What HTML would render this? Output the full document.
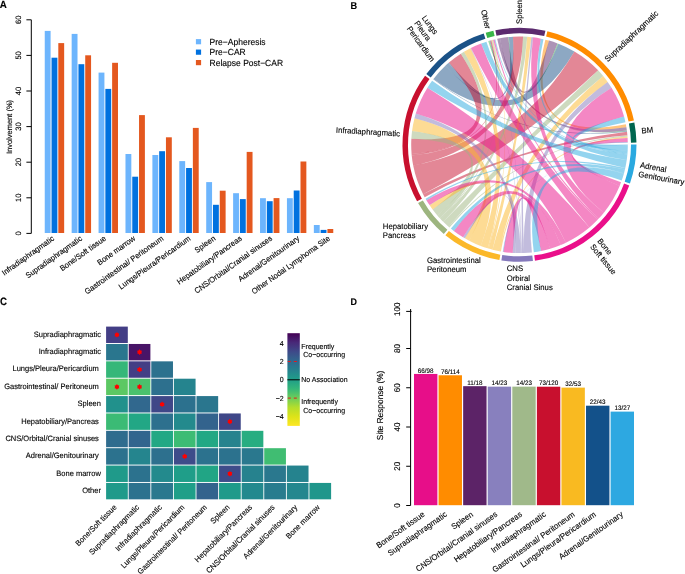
<!DOCTYPE html>
<html><head><meta charset="utf-8"><style>
html,body{margin:0;padding:0;background:#fff;}
svg{display:block;font-family:"Liberation Sans", sans-serif;will-change:transform;}
text{stroke:#000;stroke-width:0.12px;text-rendering:geometricPrecision;}
</style></head><body>
<svg width="685" height="574" viewBox="0 0 685 574">
<rect width="685" height="574" fill="#fff"/>
<text transform="translate(-0.3,7.5) scale(0.92,1)" font-size="10.6" font-weight="bold">A</text>
<line x1="31.3" y1="19.80" x2="31.3" y2="233.40" stroke="#000" stroke-width="1"/>
<line x1="26.4" y1="233.40" x2="31.3" y2="233.40" stroke="#000" stroke-width="1"/>
<text transform="translate(21.40,233.40) rotate(-90) scale(1,1.04)" font-size="7.5" text-anchor="middle" fill="#000">0</text>
<line x1="26.4" y1="197.80" x2="31.3" y2="197.80" stroke="#000" stroke-width="1"/>
<text transform="translate(21.40,197.80) rotate(-90) scale(1,1.04)" font-size="7.5" text-anchor="middle" fill="#000">10</text>
<line x1="26.4" y1="162.20" x2="31.3" y2="162.20" stroke="#000" stroke-width="1"/>
<text transform="translate(21.40,162.20) rotate(-90) scale(1,1.04)" font-size="7.5" text-anchor="middle" fill="#000">20</text>
<line x1="26.4" y1="126.60" x2="31.3" y2="126.60" stroke="#000" stroke-width="1"/>
<text transform="translate(21.40,126.60) rotate(-90) scale(1,1.04)" font-size="7.5" text-anchor="middle" fill="#000">30</text>
<line x1="26.4" y1="91.00" x2="31.3" y2="91.00" stroke="#000" stroke-width="1"/>
<text transform="translate(21.40,91.00) rotate(-90) scale(1,1.04)" font-size="7.5" text-anchor="middle" fill="#000">40</text>
<line x1="26.4" y1="55.40" x2="31.3" y2="55.40" stroke="#000" stroke-width="1"/>
<text transform="translate(21.40,55.40) rotate(-90) scale(1,1.04)" font-size="7.5" text-anchor="middle" fill="#000">50</text>
<line x1="26.4" y1="19.80" x2="31.3" y2="19.80" stroke="#000" stroke-width="1"/>
<text transform="translate(21.40,19.80) rotate(-90) scale(1,1.04)" font-size="7.5" text-anchor="middle" fill="#000">60</text>
<text transform="translate(11.70,127.00) rotate(-90) scale(1,1.04)" font-size="7.5" text-anchor="middle" fill="#000">Involvement (%)</text>
<rect x="44.75" y="30.90" width="5.85" height="202.10" fill="#6DB5FD"/>
<rect x="51.53" y="57.70" width="5.85" height="175.30" fill="#0071DF"/>
<rect x="58.31" y="43.10" width="5.85" height="189.90" fill="#E4581F"/>
<rect x="71.66" y="33.90" width="5.85" height="199.10" fill="#6DB5FD"/>
<rect x="78.44" y="64.20" width="5.85" height="168.80" fill="#0071DF"/>
<rect x="85.22" y="55.30" width="5.85" height="177.70" fill="#E4581F"/>
<rect x="98.57" y="72.60" width="5.85" height="160.40" fill="#6DB5FD"/>
<rect x="105.35" y="88.90" width="5.85" height="144.10" fill="#0071DF"/>
<rect x="112.13" y="62.80" width="5.85" height="170.20" fill="#E4581F"/>
<rect x="125.48" y="154.00" width="5.85" height="79.00" fill="#6DB5FD"/>
<rect x="132.26" y="176.70" width="5.85" height="56.30" fill="#0071DF"/>
<rect x="139.04" y="115.10" width="5.85" height="117.90" fill="#E4581F"/>
<rect x="152.39" y="155.00" width="5.85" height="78.00" fill="#6DB5FD"/>
<rect x="159.17" y="151.20" width="5.85" height="81.80" fill="#0071DF"/>
<rect x="165.95" y="137.30" width="5.85" height="95.70" fill="#E4581F"/>
<rect x="179.30" y="161.10" width="5.85" height="71.90" fill="#6DB5FD"/>
<rect x="186.08" y="168.00" width="5.85" height="65.00" fill="#0071DF"/>
<rect x="192.86" y="127.90" width="5.85" height="105.10" fill="#E4581F"/>
<rect x="206.21" y="182.10" width="5.85" height="50.90" fill="#6DB5FD"/>
<rect x="212.99" y="204.80" width="5.85" height="28.20" fill="#0071DF"/>
<rect x="219.77" y="190.70" width="5.85" height="42.30" fill="#E4581F"/>
<rect x="233.12" y="193.20" width="5.85" height="39.80" fill="#6DB5FD"/>
<rect x="239.90" y="199.10" width="5.85" height="33.90" fill="#0071DF"/>
<rect x="246.68" y="151.90" width="5.85" height="81.10" fill="#E4581F"/>
<rect x="260.03" y="198.20" width="5.85" height="34.80" fill="#6DB5FD"/>
<rect x="266.81" y="201.20" width="5.85" height="31.80" fill="#0071DF"/>
<rect x="273.59" y="198.10" width="5.85" height="34.90" fill="#E4581F"/>
<rect x="286.94" y="198.20" width="5.85" height="34.80" fill="#6DB5FD"/>
<rect x="293.72" y="190.50" width="5.85" height="42.50" fill="#0071DF"/>
<rect x="300.50" y="161.50" width="5.85" height="71.50" fill="#E4581F"/>
<rect x="313.85" y="225.00" width="5.85" height="8.00" fill="#6DB5FD"/>
<rect x="320.63" y="229.90" width="5.85" height="3.10" fill="#0071DF"/>
<rect x="327.41" y="229.00" width="5.85" height="4.00" fill="#E4581F"/>
<text transform="translate(54.80,239.60) rotate(-35.5) scale(1,1.04)" font-size="7.5" text-anchor="end" fill="#000">Infradiaphragmatic</text>
<text transform="translate(82.71,239.60) rotate(-35.5) scale(1,1.04)" font-size="7.5" text-anchor="end" fill="#000">Supradiaphragmatic</text>
<text transform="translate(106.72,239.60) rotate(-35.5) scale(1,1.04)" font-size="7.5" text-anchor="end" fill="#000">Bone/Soft tissue</text>
<text transform="translate(135.93,239.60) rotate(-35.5) scale(1,1.04)" font-size="7.5" text-anchor="end" fill="#000">Bone marrow</text>
<text transform="translate(164.04,239.60) rotate(-35.5) scale(1,1.04)" font-size="7.5" text-anchor="end" fill="#000">Gastrointestinal/ Peritoneum</text>
<text transform="translate(191.15,239.60) rotate(-35.5) scale(1,1.04)" font-size="7.5" text-anchor="end" fill="#000">Lungs/Pleura/Pericardium</text>
<text transform="translate(216.06,239.60) rotate(-35.5) scale(1,1.04)" font-size="7.5" text-anchor="end" fill="#000">Spleen</text>
<text transform="translate(242.47,239.60) rotate(-35.5) scale(1,1.04)" font-size="7.5" text-anchor="end" fill="#000">Hepatobiliary/Pancreas</text>
<text transform="translate(272.78,239.60) rotate(-35.5) scale(1,1.04)" font-size="7.5" text-anchor="end" fill="#000">CNS/Orbital/Cranial sinuses</text>
<text transform="translate(299.99,239.60) rotate(-35.5) scale(1,1.04)" font-size="7.5" text-anchor="end" fill="#000">Adrenal/Genitourinary</text>
<text transform="translate(330.70,239.60) rotate(-35.5) scale(1,1.04)" font-size="7.5" text-anchor="end" fill="#000">Other Nodal Lymphoma Site</text>
<rect x="195.9" y="39.10" width="5.2" height="5.2" fill="#6DB5FD"/>
<text transform="translate(209.60,44.90) rotate(0) scale(1,1.04)" font-size="8.5" fill="#000">Pre−Apheresis</text>
<rect x="195.9" y="49.55" width="5.2" height="5.2" fill="#0071DF"/>
<text transform="translate(209.60,55.30) rotate(0) scale(1,1.04)" font-size="8.5" fill="#000">Pre−CAR</text>
<rect x="195.9" y="60.00" width="5.2" height="5.2" fill="#E4581F"/>
<text transform="translate(209.60,65.70) rotate(0) scale(1,1.04)" font-size="8.5" fill="#000">Relapse Post−CAR</text>
<path d="M428.50,75.72 A114.25,114.25 0 0 1 484.57,36.02" fill="none" stroke="#1B5287" stroke-width="5.50"/>
<path d="M486.48,35.43 A114.25,114.25 0 0 1 493.99,33.43" fill="none" stroke="#3AB54A" stroke-width="5.50"/>
<path d="M495.94,33.01 A114.25,114.25 0 0 1 544.81,33.39" fill="none" stroke="#5B2A6E" stroke-width="5.50"/>
<path d="M546.75,33.85 A114.25,114.25 0 0 1 631.25,121.05" fill="none" stroke="#FF8C00" stroke-width="5.50"/>
<path d="M631.65,123.00 A114.25,114.25 0 0 1 633.73,142.61" fill="none" stroke="#00664F" stroke-width="5.50"/>
<path d="M633.75,144.60 A114.25,114.25 0 0 1 627.33,182.56" fill="none" stroke="#2AA9E0" stroke-width="5.50"/>
<path d="M626.65,184.44 A114.25,114.25 0 0 1 534.61,258.05" fill="none" stroke="#EA0F8A" stroke-width="5.50"/>
<path d="M532.63,258.29 A114.25,114.25 0 0 1 501.82,257.67" fill="none" stroke="#8579BC" stroke-width="5.50"/>
<path d="M499.86,257.35 A114.25,114.25 0 0 1 447.14,233.21" fill="none" stroke="#FBB829" stroke-width="5.50"/>
<path d="M445.60,231.93 A114.25,114.25 0 0 1 420.46,201.75" fill="none" stroke="#9DB57F" stroke-width="5.50"/>
<path d="M419.48,200.02 A114.25,114.25 0 0 1 427.30,77.32" fill="none" stroke="#C8102E" stroke-width="5.50"/>
<path d="M545.33,39.63 A108.3,108.3 0 0 1 549.08,40.62 Q519.5,144.8 625.81,124.14 A108.3,108.3 0 0 1 626.39,127.36 Q519.5,144.8 545.33,39.63Z" fill="#FF8C00" fill-opacity="0.5"/>
<path d="M499.93,38.28 A108.3,108.3 0 0 1 508.28,37.08 Q519.5,144.8 549.08,40.62 A108.3,108.3 0 0 1 557.53,43.40 Q519.5,144.8 499.93,38.28Z" fill="#5B2A6E" fill-opacity="0.5"/>
<path d="M497.17,38.83 A108.3,108.3 0 0 1 499.93,38.28 Q519.5,144.8 626.39,127.36 A108.3,108.3 0 0 1 626.84,130.42 Q519.5,144.8 497.17,38.83Z" fill="#5B2A6E" fill-opacity="0.5"/>
<path d="M489.21,40.82 A108.3,108.3 0 0 1 489.64,40.70 Q519.5,144.8 508.28,37.08 A108.3,108.3 0 0 1 508.84,37.03 Q519.5,144.8 489.21,40.82Z" fill="#3AB54A" fill-opacity="0.5"/>
<path d="M488.49,41.04 A108.3,108.3 0 0 1 489.21,40.82 Q519.5,144.8 557.53,43.40 A108.3,108.3 0 0 1 558.41,43.73 Q519.5,144.8 488.49,41.04Z" fill="#3AB54A" fill-opacity="0.5"/>
<path d="M488.20,41.12 A108.3,108.3 0 0 1 488.49,41.04 Q519.5,144.8 626.84,130.42 A108.3,108.3 0 0 1 626.92,130.99 Q519.5,144.8 488.20,41.12Z" fill="#3AB54A" fill-opacity="0.5"/>
<path d="M448.40,63.11 A108.3,108.3 0 0 1 448.96,62.62 Q519.5,144.8 489.64,40.70 A108.3,108.3 0 0 1 490.22,40.53 Q519.5,144.8 448.40,63.11Z" fill="#1B5287" fill-opacity="0.5"/>
<path d="M445.37,65.84 A108.3,108.3 0 0 1 448.40,63.11 Q519.5,144.8 508.84,37.03 A108.3,108.3 0 0 1 512.95,36.70 Q519.5,144.8 445.37,65.84Z" fill="#1B5287" fill-opacity="0.5"/>
<path d="M433.69,78.73 A108.3,108.3 0 0 1 445.37,65.84 Q519.5,144.8 558.41,43.73 A108.3,108.3 0 0 1 574.41,51.45 Q519.5,144.8 433.69,78.73Z" fill="#1B5287" fill-opacity="0.5"/>
<path d="M433.24,79.32 A108.3,108.3 0 0 1 433.69,78.73 Q519.5,144.8 626.92,130.99 A108.3,108.3 0 0 1 627.01,131.76 Q519.5,144.8 433.24,79.32Z" fill="#1B5287" fill-opacity="0.5"/>
<path d="M448.96,62.62 A108.3,108.3 0 0 1 460.83,53.77 Q519.5,144.8 411.59,153.93 A108.3,108.3 0 0 1 411.36,138.85 Q519.5,144.8 448.96,62.62Z" fill="#C8102E" fill-opacity="0.5"/>
<path d="M490.22,40.53 A108.3,108.3 0 0 1 491.38,40.21 Q519.5,144.8 411.72,155.44 A108.3,108.3 0 0 1 411.59,153.93 Q519.5,144.8 490.22,40.53Z" fill="#C8102E" fill-opacity="0.5"/>
<path d="M512.95,36.70 A108.3,108.3 0 0 1 523.07,36.56 Q519.5,144.8 413.20,165.52 A108.3,108.3 0 0 1 411.72,155.44 Q519.5,144.8 512.95,36.70Z" fill="#C8102E" fill-opacity="0.5"/>
<path d="M574.41,51.45 A108.3,108.3 0 0 1 598.16,70.35 Q519.5,144.8 423.09,194.14 A108.3,108.3 0 0 1 413.20,165.52 Q519.5,144.8 574.41,51.45Z" fill="#C8102E" fill-opacity="0.5"/>
<path d="M627.01,131.76 A108.3,108.3 0 0 1 627.37,135.21 Q519.5,144.8 424.69,197.14 A108.3,108.3 0 0 1 423.09,194.14 Q519.5,144.8 627.01,131.76Z" fill="#C8102E" fill-opacity="0.5"/>
<path d="M460.83,53.77 A108.3,108.3 0 0 1 463.98,51.81 Q519.5,144.8 439.85,218.18 A108.3,108.3 0 0 1 437.37,215.40 Q519.5,144.8 460.83,53.77Z" fill="#9DB57F" fill-opacity="0.5"/>
<path d="M491.38,40.21 A108.3,108.3 0 0 1 492.11,40.02 Q519.5,144.8 440.51,218.89 A108.3,108.3 0 0 1 439.85,218.18 Q519.5,144.8 491.38,40.21Z" fill="#9DB57F" fill-opacity="0.5"/>
<path d="M523.07,36.56 A108.3,108.3 0 0 1 527.19,36.77 Q519.5,144.8 443.25,221.70 A108.3,108.3 0 0 1 440.51,218.89 Q519.5,144.8 523.07,36.56Z" fill="#9DB57F" fill-opacity="0.5"/>
<path d="M598.16,70.35 A108.3,108.3 0 0 1 603.16,76.03 Q519.5,144.8 448.56,226.63 A108.3,108.3 0 0 1 443.25,221.70 Q519.5,144.8 598.16,70.35Z" fill="#9DB57F" fill-opacity="0.5"/>
<path d="M627.37,135.21 A108.3,108.3 0 0 1 627.49,136.56 Q519.5,144.8 449.45,227.40 A108.3,108.3 0 0 1 448.56,226.63 Q519.5,144.8 627.37,135.21Z" fill="#9DB57F" fill-opacity="0.5"/>
<path d="M437.37,215.40 A108.3,108.3 0 0 1 432.60,209.43 Q519.5,144.8 411.36,138.85 A108.3,108.3 0 0 1 412.09,130.96 Q519.5,144.8 437.37,215.40Z" fill="#9DB57F" fill-opacity="0.5"/>
<path d="M463.98,51.81 A108.3,108.3 0 0 1 470.47,48.23 Q519.5,144.8 487.70,248.32 A108.3,108.3 0 0 1 480.67,245.90 Q519.5,144.8 463.98,51.81Z" fill="#FBB829" fill-opacity="0.5"/>
<path d="M492.11,40.02 A108.3,108.3 0 0 1 492.84,39.83 Q519.5,144.8 488.58,248.59 A108.3,108.3 0 0 1 487.70,248.32 Q519.5,144.8 492.11,40.02Z" fill="#FBB829" fill-opacity="0.5"/>
<path d="M527.19,36.77 A108.3,108.3 0 0 1 531.30,37.14 Q519.5,144.8 492.52,249.69 A108.3,108.3 0 0 1 488.58,248.59 Q519.5,144.8 527.19,36.77Z" fill="#FBB829" fill-opacity="0.5"/>
<path d="M603.16,76.03 A108.3,108.3 0 0 1 607.65,81.88 Q519.5,144.8 499.60,251.26 A108.3,108.3 0 0 1 492.52,249.69 Q519.5,144.8 603.16,76.03Z" fill="#FBB829" fill-opacity="0.5"/>
<path d="M627.49,136.56 A108.3,108.3 0 0 1 627.58,137.90 Q519.5,144.8 500.88,251.49 A108.3,108.3 0 0 1 499.60,251.26 Q519.5,144.8 627.49,136.56Z" fill="#FBB829" fill-opacity="0.5"/>
<path d="M469.16,240.69 A108.3,108.3 0 0 1 464.93,238.35 Q519.5,144.8 432.60,209.43 A108.3,108.3 0 0 1 429.65,205.27 Q519.5,144.8 469.16,240.69Z" fill="#FBB829" fill-opacity="0.5"/>
<path d="M480.67,245.90 A108.3,108.3 0 0 1 469.16,240.69 Q519.5,144.8 412.09,130.96 A108.3,108.3 0 0 1 414.48,118.35 Q519.5,144.8 480.67,245.90Z" fill="#FBB829" fill-opacity="0.5"/>
<path d="M470.47,48.23 A108.3,108.3 0 0 1 470.97,47.98 Q519.5,144.8 521.29,253.09 A108.3,108.3 0 0 1 520.55,253.09 Q519.5,144.8 470.47,48.23Z" fill="#8579BC" fill-opacity="0.5"/>
<path d="M492.84,39.83 A108.3,108.3 0 0 1 493.27,39.72 Q519.5,144.8 521.84,253.07 A108.3,108.3 0 0 1 521.29,253.09 Q519.5,144.8 492.84,39.83Z" fill="#8579BC" fill-opacity="0.5"/>
<path d="M531.30,37.14 A108.3,108.3 0 0 1 533.16,37.36 Q519.5,144.8 524.05,253.00 A108.3,108.3 0 0 1 521.84,253.07 Q519.5,144.8 531.30,37.14Z" fill="#8579BC" fill-opacity="0.5"/>
<path d="M607.65,81.88 A108.3,108.3 0 0 1 611.53,87.71 Q519.5,144.8 531.76,252.40 A108.3,108.3 0 0 1 524.05,253.00 Q519.5,144.8 607.65,81.88Z" fill="#8579BC" fill-opacity="0.5"/>
<path d="M627.58,137.90 A108.3,108.3 0 0 1 627.59,138.10 Q519.5,144.8 531.95,252.38 A108.3,108.3 0 0 1 531.76,252.40 Q519.5,144.8 627.58,137.90Z" fill="#8579BC" fill-opacity="0.5"/>
<path d="M515.21,253.01 A108.3,108.3 0 0 1 512.63,252.88 Q519.5,144.8 464.93,238.35 A108.3,108.3 0 0 1 463.02,237.21 Q519.5,144.8 515.21,253.01Z" fill="#8579BC" fill-opacity="0.5"/>
<path d="M515.39,253.02 A108.3,108.3 0 0 1 515.21,253.01 Q519.5,144.8 429.65,205.27 A108.3,108.3 0 0 1 429.55,205.11 Q519.5,144.8 515.39,253.02Z" fill="#8579BC" fill-opacity="0.5"/>
<path d="M520.55,253.09 A108.3,108.3 0 0 1 515.39,253.02 Q519.5,144.8 414.48,118.35 A108.3,108.3 0 0 1 415.78,113.62 Q519.5,144.8 520.55,253.09Z" fill="#8579BC" fill-opacity="0.5"/>
<path d="M470.97,47.98 A108.3,108.3 0 0 1 481.15,43.52 Q519.5,144.8 597.59,219.84 A108.3,108.3 0 0 1 589.44,227.49 Q519.5,144.8 470.97,47.98Z" fill="#EA0F8A" fill-opacity="0.5"/>
<path d="M493.27,39.72 A108.3,108.3 0 0 1 494.59,39.40 Q519.5,144.8 598.74,218.62 A108.3,108.3 0 0 1 597.59,219.84 Q519.5,144.8 493.27,39.72Z" fill="#EA0F8A" fill-opacity="0.5"/>
<path d="M533.16,37.36 A108.3,108.3 0 0 1 540.93,38.64 Q519.5,144.8 603.87,212.71 A108.3,108.3 0 0 1 598.74,218.62 Q519.5,144.8 533.16,37.36Z" fill="#EA0F8A" fill-opacity="0.5"/>
<path d="M611.53,87.71 A108.3,108.3 0 0 1 624.06,116.58 Q519.5,144.8 619.65,186.02 A108.3,108.3 0 0 1 603.87,212.71 Q519.5,144.8 611.53,87.71Z" fill="#EA0F8A" fill-opacity="0.5"/>
<path d="M627.59,138.10 A108.3,108.3 0 0 1 627.77,142.14 Q519.5,144.8 621.07,182.37 A108.3,108.3 0 0 1 619.65,186.02 Q519.5,144.8 627.59,138.10Z" fill="#EA0F8A" fill-opacity="0.5"/>
<path d="M550.21,248.66 A108.3,108.3 0 0 1 540.99,250.95 Q519.5,144.8 512.63,252.88 A108.3,108.3 0 0 1 503.29,251.88 Q519.5,144.8 550.21,248.66Z" fill="#EA0F8A" fill-opacity="0.5"/>
<path d="M560.74,244.94 A108.3,108.3 0 0 1 550.21,248.66 Q519.5,144.8 463.02,237.21 A108.3,108.3 0 0 1 453.82,230.91 Q519.5,144.8 560.74,244.94Z" fill="#EA0F8A" fill-opacity="0.5"/>
<path d="M565.86,242.68 A108.3,108.3 0 0 1 560.74,244.94 Q519.5,144.8 429.55,205.11 A108.3,108.3 0 0 1 426.41,200.14 Q519.5,144.8 565.86,242.68Z" fill="#EA0F8A" fill-opacity="0.5"/>
<path d="M589.44,227.49 A108.3,108.3 0 0 1 565.86,242.68 Q519.5,144.8 415.78,113.62 A108.3,108.3 0 0 1 427.46,87.72 Q519.5,144.8 589.44,227.49Z" fill="#EA0F8A" fill-opacity="0.5"/>
<path d="M481.15,43.52 A108.3,108.3 0 0 1 486.39,41.68 Q519.5,144.8 627.37,154.46 A108.3,108.3 0 0 1 626.73,160.01 Q519.5,144.8 481.15,43.52Z" fill="#2AA9E0" fill-opacity="0.5"/>
<path d="M494.59,39.40 A108.3,108.3 0 0 1 495.32,39.23 Q519.5,144.8 627.45,153.54 A108.3,108.3 0 0 1 627.37,154.46 Q519.5,144.8 494.59,39.40Z" fill="#2AA9E0" fill-opacity="0.5"/>
<path d="M540.93,38.64 A108.3,108.3 0 0 1 543.49,39.19 Q519.5,144.8 627.63,150.94 A108.3,108.3 0 0 1 627.45,153.54 Q519.5,144.8 540.93,38.64Z" fill="#2AA9E0" fill-opacity="0.5"/>
<path d="M624.06,116.58 A108.3,108.3 0 0 1 625.43,122.28 Q519.5,144.8 627.80,145.17 A108.3,108.3 0 0 1 627.63,150.94 Q519.5,144.8 624.06,116.58Z" fill="#2AA9E0" fill-opacity="0.5"/>
<path d="M627.77,142.14 A108.3,108.3 0 0 1 627.78,142.72 Q519.5,144.8 627.80,144.61 A108.3,108.3 0 0 1 627.80,145.17 Q519.5,144.8 627.77,142.14Z" fill="#2AA9E0" fill-opacity="0.5"/>
<path d="M623.88,173.67 A108.3,108.3 0 0 1 621.71,180.59 Q519.5,144.8 540.99,250.95 A108.3,108.3 0 0 1 533.82,252.15 Q519.5,144.8 623.88,173.67Z" fill="#2AA9E0" fill-opacity="0.5"/>
<path d="M624.03,173.13 A108.3,108.3 0 0 1 623.88,173.67 Q519.5,144.8 503.29,251.88 A108.3,108.3 0 0 1 502.74,251.80 Q519.5,144.8 624.03,173.13Z" fill="#2AA9E0" fill-opacity="0.5"/>
<path d="M624.94,169.52 A108.3,108.3 0 0 1 624.03,173.13 Q519.5,144.8 453.82,230.91 A108.3,108.3 0 0 1 450.90,228.61 Q519.5,144.8 624.94,169.52Z" fill="#2AA9E0" fill-opacity="0.5"/>
<path d="M625.27,168.07 A108.3,108.3 0 0 1 624.94,169.52 Q519.5,144.8 426.41,200.14 A108.3,108.3 0 0 1 425.62,198.79 Q519.5,144.8 625.27,168.07Z" fill="#2AA9E0" fill-opacity="0.5"/>
<path d="M626.73,160.01 A108.3,108.3 0 0 1 625.27,168.07 Q519.5,144.8 427.46,87.72 A108.3,108.3 0 0 1 432.11,80.84 Q519.5,144.8 626.73,160.01Z" fill="#2AA9E0" fill-opacity="0.5"/>
<text transform="translate(350.4,8.9) scale(0.93,1)" font-size="9.9" font-weight="bold">B</text>
<text transform="translate(421.50,17.90) rotate(54) scale(1,1.04)" font-size="7.75" fill="#000">Lungs</text>
<text transform="translate(413.98,23.37) rotate(54) scale(1,1.04)" font-size="7.75" fill="#000">Pleura</text>
<text transform="translate(406.45,28.83) rotate(54) scale(1,1.04)" font-size="7.75" fill="#000">Pericardium</text>
<text transform="translate(481.00,10.50) rotate(77) scale(1,1.04)" font-size="7.75" fill="#000">Other</text>
<text transform="translate(521.70,24.00) rotate(-90) scale(1,1.04)" font-size="7.75" fill="#000">Spleen</text>
<text transform="translate(607.80,62.30) rotate(-43.3) scale(1,1.04)" font-size="7.85" fill="#000">Supradiaphragmatic</text>
<text transform="translate(641.80,133.50) rotate(-6) scale(1,1.04)" font-size="7.75" fill="#000">BM</text>
<text transform="translate(639.70,167.60) rotate(10) scale(1,1.04)" font-size="7.75" fill="#000">Adrenal</text>
<text transform="translate(638.09,176.76) rotate(10) scale(1,1.04)" font-size="7.75" fill="#000">Genitourinary</text>
<text transform="translate(597.10,241.20) rotate(51) scale(1,1.04)" font-size="7.75" fill="#000">Bone</text>
<text transform="translate(589.87,247.05) rotate(51) scale(1,1.04)" font-size="7.75" fill="#000">Soft tissue</text>
<text transform="translate(506.70,271.20) rotate(0) scale(1,1.04)" font-size="7.75" fill="#000">CNS</text>
<text transform="translate(506.70,280.50) rotate(0) scale(1,1.04)" font-size="7.75" fill="#000">Orbiral</text>
<text transform="translate(506.70,289.80) rotate(0) scale(1,1.04)" font-size="7.75" fill="#000">Cranial Sinus</text>
<text transform="translate(426.90,262.80) rotate(0) scale(1,1.04)" font-size="7.75" fill="#000">Gastrointestinal</text>
<text transform="translate(426.90,272.00) rotate(0) scale(1,1.04)" font-size="7.75" fill="#000">Peritoneum</text>
<text transform="translate(382.80,228.90) rotate(0) scale(1,1.04)" font-size="7.75" fill="#000">Hepatobiliary</text>
<text transform="translate(382.80,238.00) rotate(0) scale(1,1.04)" font-size="7.75" fill="#000">Pancreas</text>
<text transform="translate(335.80,132.70) rotate(3.3) scale(1,1.04)" font-size="7.75" fill="#000">Infradiaphragmatic</text>
<text transform="translate(-0.1,304.9) scale(0.92,1)" font-size="10.6" font-weight="bold">C</text>
<rect x="106.10" y="326.60" width="21.7" height="16.4" fill="#433E85"/>
<rect x="106.10" y="343.97" width="21.7" height="16.4" fill="#2A768E"/>
<rect x="128.69" y="343.97" width="21.7" height="16.4" fill="#481467"/>
<rect x="106.10" y="361.34" width="21.7" height="16.4" fill="#35B779"/>
<rect x="128.69" y="361.34" width="21.7" height="16.4" fill="#433E85"/>
<rect x="151.28" y="361.34" width="21.7" height="16.4" fill="#2C718E"/>
<rect x="106.10" y="378.71" width="21.7" height="16.4" fill="#5CC863"/>
<rect x="128.69" y="378.71" width="21.7" height="16.4" fill="#4AC16D"/>
<rect x="151.28" y="378.71" width="21.7" height="16.4" fill="#2D708E"/>
<rect x="173.87" y="378.71" width="21.7" height="16.4" fill="#25848E"/>
<rect x="106.10" y="396.08" width="21.7" height="16.4" fill="#21918C"/>
<rect x="128.69" y="396.08" width="21.7" height="16.4" fill="#31688E"/>
<rect x="151.28" y="396.08" width="21.7" height="16.4" fill="#3F4788"/>
<rect x="173.87" y="396.08" width="21.7" height="16.4" fill="#2C718E"/>
<rect x="196.46" y="396.08" width="21.7" height="16.4" fill="#2A768E"/>
<rect x="106.10" y="413.45" width="21.7" height="16.4" fill="#3BBB75"/>
<rect x="128.69" y="413.45" width="21.7" height="16.4" fill="#22A785"/>
<rect x="151.28" y="413.45" width="21.7" height="16.4" fill="#2D708E"/>
<rect x="173.87" y="413.45" width="21.7" height="16.4" fill="#238A8D"/>
<rect x="196.46" y="413.45" width="21.7" height="16.4" fill="#33638D"/>
<rect x="219.05" y="413.45" width="21.7" height="16.4" fill="#3F4788"/>
<rect x="106.10" y="430.82" width="21.7" height="16.4" fill="#2F6C8E"/>
<rect x="128.69" y="430.82" width="21.7" height="16.4" fill="#32658E"/>
<rect x="151.28" y="430.82" width="21.7" height="16.4" fill="#22A884"/>
<rect x="173.87" y="430.82" width="21.7" height="16.4" fill="#3DBC74"/>
<rect x="196.46" y="430.82" width="21.7" height="16.4" fill="#22A884"/>
<rect x="219.05" y="430.82" width="21.7" height="16.4" fill="#26838E"/>
<rect x="241.64" y="430.82" width="21.7" height="16.4" fill="#27AD81"/>
<rect x="106.10" y="448.19" width="21.7" height="16.4" fill="#2C728E"/>
<rect x="128.69" y="448.19" width="21.7" height="16.4" fill="#25858E"/>
<rect x="151.28" y="448.19" width="21.7" height="16.4" fill="#2D708E"/>
<rect x="173.87" y="448.19" width="21.7" height="16.4" fill="#3E4C8A"/>
<rect x="196.46" y="448.19" width="21.7" height="16.4" fill="#2C728E"/>
<rect x="219.05" y="448.19" width="21.7" height="16.4" fill="#2C728E"/>
<rect x="241.64" y="448.19" width="21.7" height="16.4" fill="#2A788E"/>
<rect x="264.23" y="448.19" width="21.7" height="16.4" fill="#40BD72"/>
<rect x="106.10" y="465.56" width="21.7" height="16.4" fill="#1F9A8A"/>
<rect x="128.69" y="465.56" width="21.7" height="16.4" fill="#2C728E"/>
<rect x="151.28" y="465.56" width="21.7" height="16.4" fill="#238A8D"/>
<rect x="173.87" y="465.56" width="21.7" height="16.4" fill="#1F9E89"/>
<rect x="196.46" y="465.56" width="21.7" height="16.4" fill="#21A585"/>
<rect x="219.05" y="465.56" width="21.7" height="16.4" fill="#3E4C8A"/>
<rect x="241.64" y="465.56" width="21.7" height="16.4" fill="#26828E"/>
<rect x="264.23" y="465.56" width="21.7" height="16.4" fill="#2A788E"/>
<rect x="286.82" y="465.56" width="21.7" height="16.4" fill="#25838E"/>
<rect x="106.10" y="482.93" width="21.7" height="16.4" fill="#1F9A8A"/>
<rect x="128.69" y="482.93" width="21.7" height="16.4" fill="#2C728E"/>
<rect x="151.28" y="482.93" width="21.7" height="16.4" fill="#2A788E"/>
<rect x="173.87" y="482.93" width="21.7" height="16.4" fill="#1F9F88"/>
<rect x="196.46" y="482.93" width="21.7" height="16.4" fill="#33638D"/>
<rect x="219.05" y="482.93" width="21.7" height="16.4" fill="#1F9A8A"/>
<rect x="241.64" y="482.93" width="21.7" height="16.4" fill="#23898E"/>
<rect x="264.23" y="482.93" width="21.7" height="16.4" fill="#287C8E"/>
<rect x="286.82" y="482.93" width="21.7" height="16.4" fill="#24878E"/>
<rect x="309.41" y="482.93" width="21.7" height="16.4" fill="#1F968B"/>
<polygon points="116.95,332.00 117.90,333.15 119.37,333.40 118.85,334.80 119.37,336.20 117.90,336.45 116.95,337.60 116.00,336.45 114.53,336.20 115.05,334.80 114.53,333.40 116.00,333.15" fill="#FF0000"/>
<polygon points="139.54,349.37 140.49,350.52 141.96,350.77 141.44,352.17 141.96,353.57 140.49,353.82 139.54,354.97 138.59,353.82 137.12,353.57 137.64,352.17 137.12,350.77 138.59,350.52" fill="#FF0000"/>
<polygon points="139.54,366.74 140.49,367.89 141.96,368.14 141.44,369.54 141.96,370.94 140.49,371.19 139.54,372.34 138.59,371.19 137.12,370.94 137.64,369.54 137.12,368.14 138.59,367.89" fill="#FF0000"/>
<polygon points="116.95,384.11 117.90,385.26 119.37,385.51 118.85,386.91 119.37,388.31 117.90,388.56 116.95,389.71 116.00,388.56 114.53,388.31 115.05,386.91 114.53,385.51 116.00,385.26" fill="#FF0000"/>
<polygon points="139.54,384.11 140.49,385.26 141.96,385.51 141.44,386.91 141.96,388.31 140.49,388.56 139.54,389.71 138.59,388.56 137.12,388.31 137.64,386.91 137.12,385.51 138.59,385.26" fill="#FF0000"/>
<polygon points="162.13,401.48 163.08,402.63 164.55,402.88 164.03,404.28 164.55,405.68 163.08,405.93 162.13,407.08 161.18,405.93 159.71,405.68 160.23,404.28 159.71,402.88 161.18,402.63" fill="#FF0000"/>
<polygon points="229.90,418.85 230.85,420.00 232.32,420.25 231.80,421.65 232.32,423.05 230.85,423.30 229.90,424.45 228.95,423.30 227.48,423.05 228.00,421.65 227.48,420.25 228.95,420.00" fill="#FF0000"/>
<polygon points="184.72,453.59 185.67,454.74 187.14,454.99 186.62,456.39 187.14,457.79 185.67,458.04 184.72,459.19 183.77,458.04 182.30,457.79 182.82,456.39 182.30,454.99 183.77,454.74" fill="#FF0000"/>
<polygon points="229.90,470.96 230.85,472.11 232.32,472.36 231.80,473.76 232.32,475.16 230.85,475.41 229.90,476.56 228.95,475.41 227.48,475.16 228.00,473.76 227.48,472.36 228.95,472.11" fill="#FF0000"/>
<text transform="translate(100.90,336.70) rotate(0) scale(1,1.04)" font-size="7.5" text-anchor="end" fill="#000">Supradiaphragmatic</text>
<text transform="translate(100.90,354.07) rotate(0) scale(1,1.04)" font-size="7.5" text-anchor="end" fill="#000">Infradiaphragmatic</text>
<text transform="translate(100.90,371.44) rotate(0) scale(1,1.04)" font-size="7.5" text-anchor="end" fill="#000">Lungs/Pleura/Pericardium </text>
<text transform="translate(100.90,388.81) rotate(0) scale(1,1.04)" font-size="7.5" text-anchor="end" fill="#000">Gastrointestinal/ Peritoneum </text>
<text transform="translate(100.90,406.18) rotate(0) scale(1,1.04)" font-size="7.5" text-anchor="end" fill="#000">Spleen</text>
<text transform="translate(100.90,423.55) rotate(0) scale(1,1.04)" font-size="7.5" text-anchor="end" fill="#000">Hepatobiliary/Pancreas </text>
<text transform="translate(100.90,440.92) rotate(0) scale(1,1.04)" font-size="7.5" text-anchor="end" fill="#000">CNS/Orbital/Cranial sinuses </text>
<text transform="translate(100.90,458.29) rotate(0) scale(1,1.04)" font-size="7.5" text-anchor="end" fill="#000">Adrenal/Genitourinary </text>
<text transform="translate(100.90,475.66) rotate(0) scale(1,1.04)" font-size="7.5" text-anchor="end" fill="#000">Bone marrow</text>
<text transform="translate(100.90,493.03) rotate(0) scale(1,1.04)" font-size="7.5" text-anchor="end" fill="#000">Other</text>
<text transform="translate(117.15,507.80) rotate(-45) scale(1,1.04)" font-size="7.5" text-anchor="end" fill="#000">Bone/Soft tissue</text>
<text transform="translate(139.74,507.80) rotate(-45) scale(1,1.04)" font-size="7.5" text-anchor="end" fill="#000">Supradiaphragmatic</text>
<text transform="translate(162.33,507.80) rotate(-45) scale(1,1.04)" font-size="7.5" text-anchor="end" fill="#000">Infradiaphragmatic</text>
<text transform="translate(184.92,507.80) rotate(-45) scale(1,1.04)" font-size="7.5" text-anchor="end" fill="#000">Lungs/Pleura/Pericardium</text>
<text transform="translate(207.51,507.80) rotate(-45) scale(1,1.04)" font-size="7.5" text-anchor="end" fill="#000">Gastrointestinal/ Peritoneum</text>
<text transform="translate(230.10,507.80) rotate(-45) scale(1,1.04)" font-size="7.5" text-anchor="end" fill="#000">Spleen</text>
<text transform="translate(252.69,507.80) rotate(-45) scale(1,1.04)" font-size="7.5" text-anchor="end" fill="#000">Hepatobiliary/Pancreas</text>
<text transform="translate(275.28,507.80) rotate(-45) scale(1,1.04)" font-size="7.5" text-anchor="end" fill="#000">CNS/Orbital/Cranial sinuses</text>
<text transform="translate(297.87,507.80) rotate(-45) scale(1,1.04)" font-size="7.5" text-anchor="end" fill="#000">Adrenal/Genitourinary</text>
<text transform="translate(320.46,507.80) rotate(-45) scale(1,1.04)" font-size="7.5" text-anchor="end" fill="#000">Bone marrow</text>
<defs><linearGradient id="vir" x1="0" y1="0" x2="0" y2="1"><stop offset="0.0" stop-color="#440154"/><stop offset="0.1" stop-color="#482878"/><stop offset="0.2" stop-color="#3E4A89"/><stop offset="0.3" stop-color="#31688E"/><stop offset="0.4" stop-color="#26828E"/><stop offset="0.5" stop-color="#1F9E89"/><stop offset="0.6" stop-color="#35B779"/><stop offset="0.7" stop-color="#6DCD59"/><stop offset="0.8" stop-color="#B4DE2C"/><stop offset="0.9" stop-color="#DDE318"/><stop offset="1.0" stop-color="#FDE725"/></linearGradient></defs>
<rect x="287.4" y="333.2" width="12.4" height="92.7" fill="url(#vir)"/>
<line x1="287.4" y1="379.8" x2="299.8" y2="379.8" stroke="#000" stroke-width="1"/>
<line x1="287.8" y1="361.5" x2="299.8" y2="361.5" stroke="#E41A1C" stroke-width="1" stroke-dasharray="3,3"/>
<line x1="287.8" y1="398.1" x2="299.8" y2="398.1" stroke="#E41A1C" stroke-width="1" stroke-dasharray="3,3"/>
<text transform="translate(283.70,345.80) rotate(0) scale(1,1.04)" font-size="7" text-anchor="end" fill="#000">4</text>
<text transform="translate(283.70,364.00) rotate(0) scale(1,1.04)" font-size="7" text-anchor="end" fill="#000">2</text>
<text transform="translate(283.70,382.30) rotate(0) scale(1,1.04)" font-size="7" text-anchor="end" fill="#000">0</text>
<text transform="translate(283.70,400.60) rotate(0) scale(1,1.04)" font-size="7" text-anchor="end" fill="#000">−2</text>
<text transform="translate(283.70,418.90) rotate(0) scale(1,1.04)" font-size="7" text-anchor="end" fill="#000">−4</text>
<text transform="translate(301.30,348.80) rotate(0) scale(1,1.04)" font-size="7" fill="#000">Frequently</text>
<text transform="translate(301.30,357.40) rotate(0) scale(1,1.04)" font-size="7" fill="#000" xml:space="preserve"> Co−occurring</text>
<text transform="translate(301.30,381.70) rotate(0) scale(1,1.04)" font-size="7" fill="#000">No Association</text>
<text transform="translate(301.30,403.60) rotate(0) scale(1,1.04)" font-size="7" fill="#000">Infrequently</text>
<text transform="translate(301.30,412.60) rotate(0) scale(1,1.04)" font-size="7" fill="#000" xml:space="preserve"> Co−occurring</text>
<text transform="translate(350.4,305.0) scale(0.93,1)" font-size="9.6" font-weight="bold">D</text>
<line x1="410.6" y1="309.05" x2="410.6" y2="505.50" stroke="#000" stroke-width="1"/>
<line x1="406.2" y1="505.50" x2="410.6" y2="505.50" stroke="#000" stroke-width="1"/>
<text transform="translate(400.20,505.50) rotate(-90) scale(1,1.04)" font-size="8.0" text-anchor="middle" fill="#000">0</text>
<line x1="406.2" y1="466.25" x2="410.6" y2="466.25" stroke="#000" stroke-width="1"/>
<text transform="translate(400.20,466.25) rotate(-90) scale(1,1.04)" font-size="8.0" text-anchor="middle" fill="#000">20</text>
<line x1="406.2" y1="427.00" x2="410.6" y2="427.00" stroke="#000" stroke-width="1"/>
<text transform="translate(400.20,427.00) rotate(-90) scale(1,1.04)" font-size="8.0" text-anchor="middle" fill="#000">40</text>
<line x1="406.2" y1="387.75" x2="410.6" y2="387.75" stroke="#000" stroke-width="1"/>
<text transform="translate(400.20,387.75) rotate(-90) scale(1,1.04)" font-size="8.0" text-anchor="middle" fill="#000">60</text>
<line x1="406.2" y1="348.50" x2="410.6" y2="348.50" stroke="#000" stroke-width="1"/>
<text transform="translate(400.20,348.50) rotate(-90) scale(1,1.04)" font-size="8.0" text-anchor="middle" fill="#000">80</text>
<line x1="406.2" y1="311.40" x2="411.6" y2="311.40" stroke="#000" stroke-width="1"/>
<text transform="translate(400.20,309.25) rotate(-90) scale(1,1.04)" font-size="8.0" text-anchor="middle" fill="#000">100</text>
<text transform="translate(382.90,405.40) rotate(-90) scale(1,1.04)" font-size="8.35" text-anchor="middle" fill="#000">Site Response (%)</text>
<rect x="414.00" y="373.93" width="23.4" height="131.27" fill="#E70E89"/>
<text transform="translate(425.70,372.63) rotate(0) scale(1,1.04)" font-size="6.3" text-anchor="middle" fill="#000">66/98</text>
<text transform="translate(425.30,515.60) rotate(-35.3) scale(1,1.04)" font-size="7.85" text-anchor="end" fill="#000">Bone/Soft tissue</text>
<rect x="438.57" y="375.27" width="23.4" height="129.93" fill="#FF8C00"/>
<text transform="translate(450.27,373.97) rotate(0) scale(1,1.04)" font-size="6.3" text-anchor="middle" fill="#000">76/114</text>
<text transform="translate(447.57,515.60) rotate(-35.3) scale(1,1.04)" font-size="7.85" text-anchor="end" fill="#000">Supradiaphragmatic</text>
<rect x="463.15" y="386.17" width="23.4" height="119.03" fill="#5C2367"/>
<text transform="translate(474.85,384.87) rotate(0) scale(1,1.04)" font-size="6.3" text-anchor="middle" fill="#000">11/18</text>
<text transform="translate(473.75,515.60) rotate(-35.3) scale(1,1.04)" font-size="7.85" text-anchor="end" fill="#000">Spleen</text>
<rect x="487.73" y="386.64" width="23.4" height="118.56" fill="#8880BE"/>
<text transform="translate(499.43,385.34) rotate(0) scale(1,1.04)" font-size="6.3" text-anchor="middle" fill="#000">14/23</text>
<text transform="translate(498.03,515.60) rotate(-35.3) scale(1,1.04)" font-size="7.85" text-anchor="end" fill="#000">CNS/Orbital/Cranial sinuses</text>
<rect x="512.30" y="386.64" width="23.4" height="118.56" fill="#A0B98A"/>
<text transform="translate(524.00,385.34) rotate(0) scale(1,1.04)" font-size="6.3" text-anchor="middle" fill="#000">14/23</text>
<text transform="translate(522.60,515.60) rotate(-35.3) scale(1,1.04)" font-size="7.85" text-anchor="end" fill="#000">Hepatobiliary/Pancreas</text>
<rect x="536.88" y="386.71" width="23.4" height="118.49" fill="#C8102E"/>
<text transform="translate(548.58,385.41) rotate(0) scale(1,1.04)" font-size="6.3" text-anchor="middle" fill="#000">73/120</text>
<text transform="translate(546.48,515.60) rotate(-35.3) scale(1,1.04)" font-size="7.85" text-anchor="end" fill="#000">Infradiaphragmatic</text>
<rect x="561.45" y="387.61" width="23.4" height="117.59" fill="#F9BA21"/>
<text transform="translate(573.15,386.31) rotate(0) scale(1,1.04)" font-size="6.3" text-anchor="middle" fill="#000">32/53</text>
<text transform="translate(575.45,515.60) rotate(-35.3) scale(1,1.04)" font-size="7.85" text-anchor="end" fill="#000">Gastrointestinal/ Peritoneum</text>
<rect x="586.02" y="405.69" width="23.4" height="99.51" fill="#13518A"/>
<text transform="translate(597.73,404.39) rotate(0) scale(1,1.04)" font-size="6.3" text-anchor="middle" fill="#000">22/43</text>
<text transform="translate(596.62,515.60) rotate(-35.3) scale(1,1.04)" font-size="7.85" text-anchor="end" fill="#000">Lungs/Pleura/Pericardium</text>
<rect x="610.60" y="411.61" width="23.4" height="93.59" fill="#2DA8E1"/>
<text transform="translate(622.30,410.31) rotate(0) scale(1,1.04)" font-size="6.3" text-anchor="middle" fill="#000">13/27</text>
<text transform="translate(623.60,515.60) rotate(-35.3) scale(1,1.04)" font-size="7.85" text-anchor="end" fill="#000">Adrenal/Genitourinary</text>
</svg></body></html>
